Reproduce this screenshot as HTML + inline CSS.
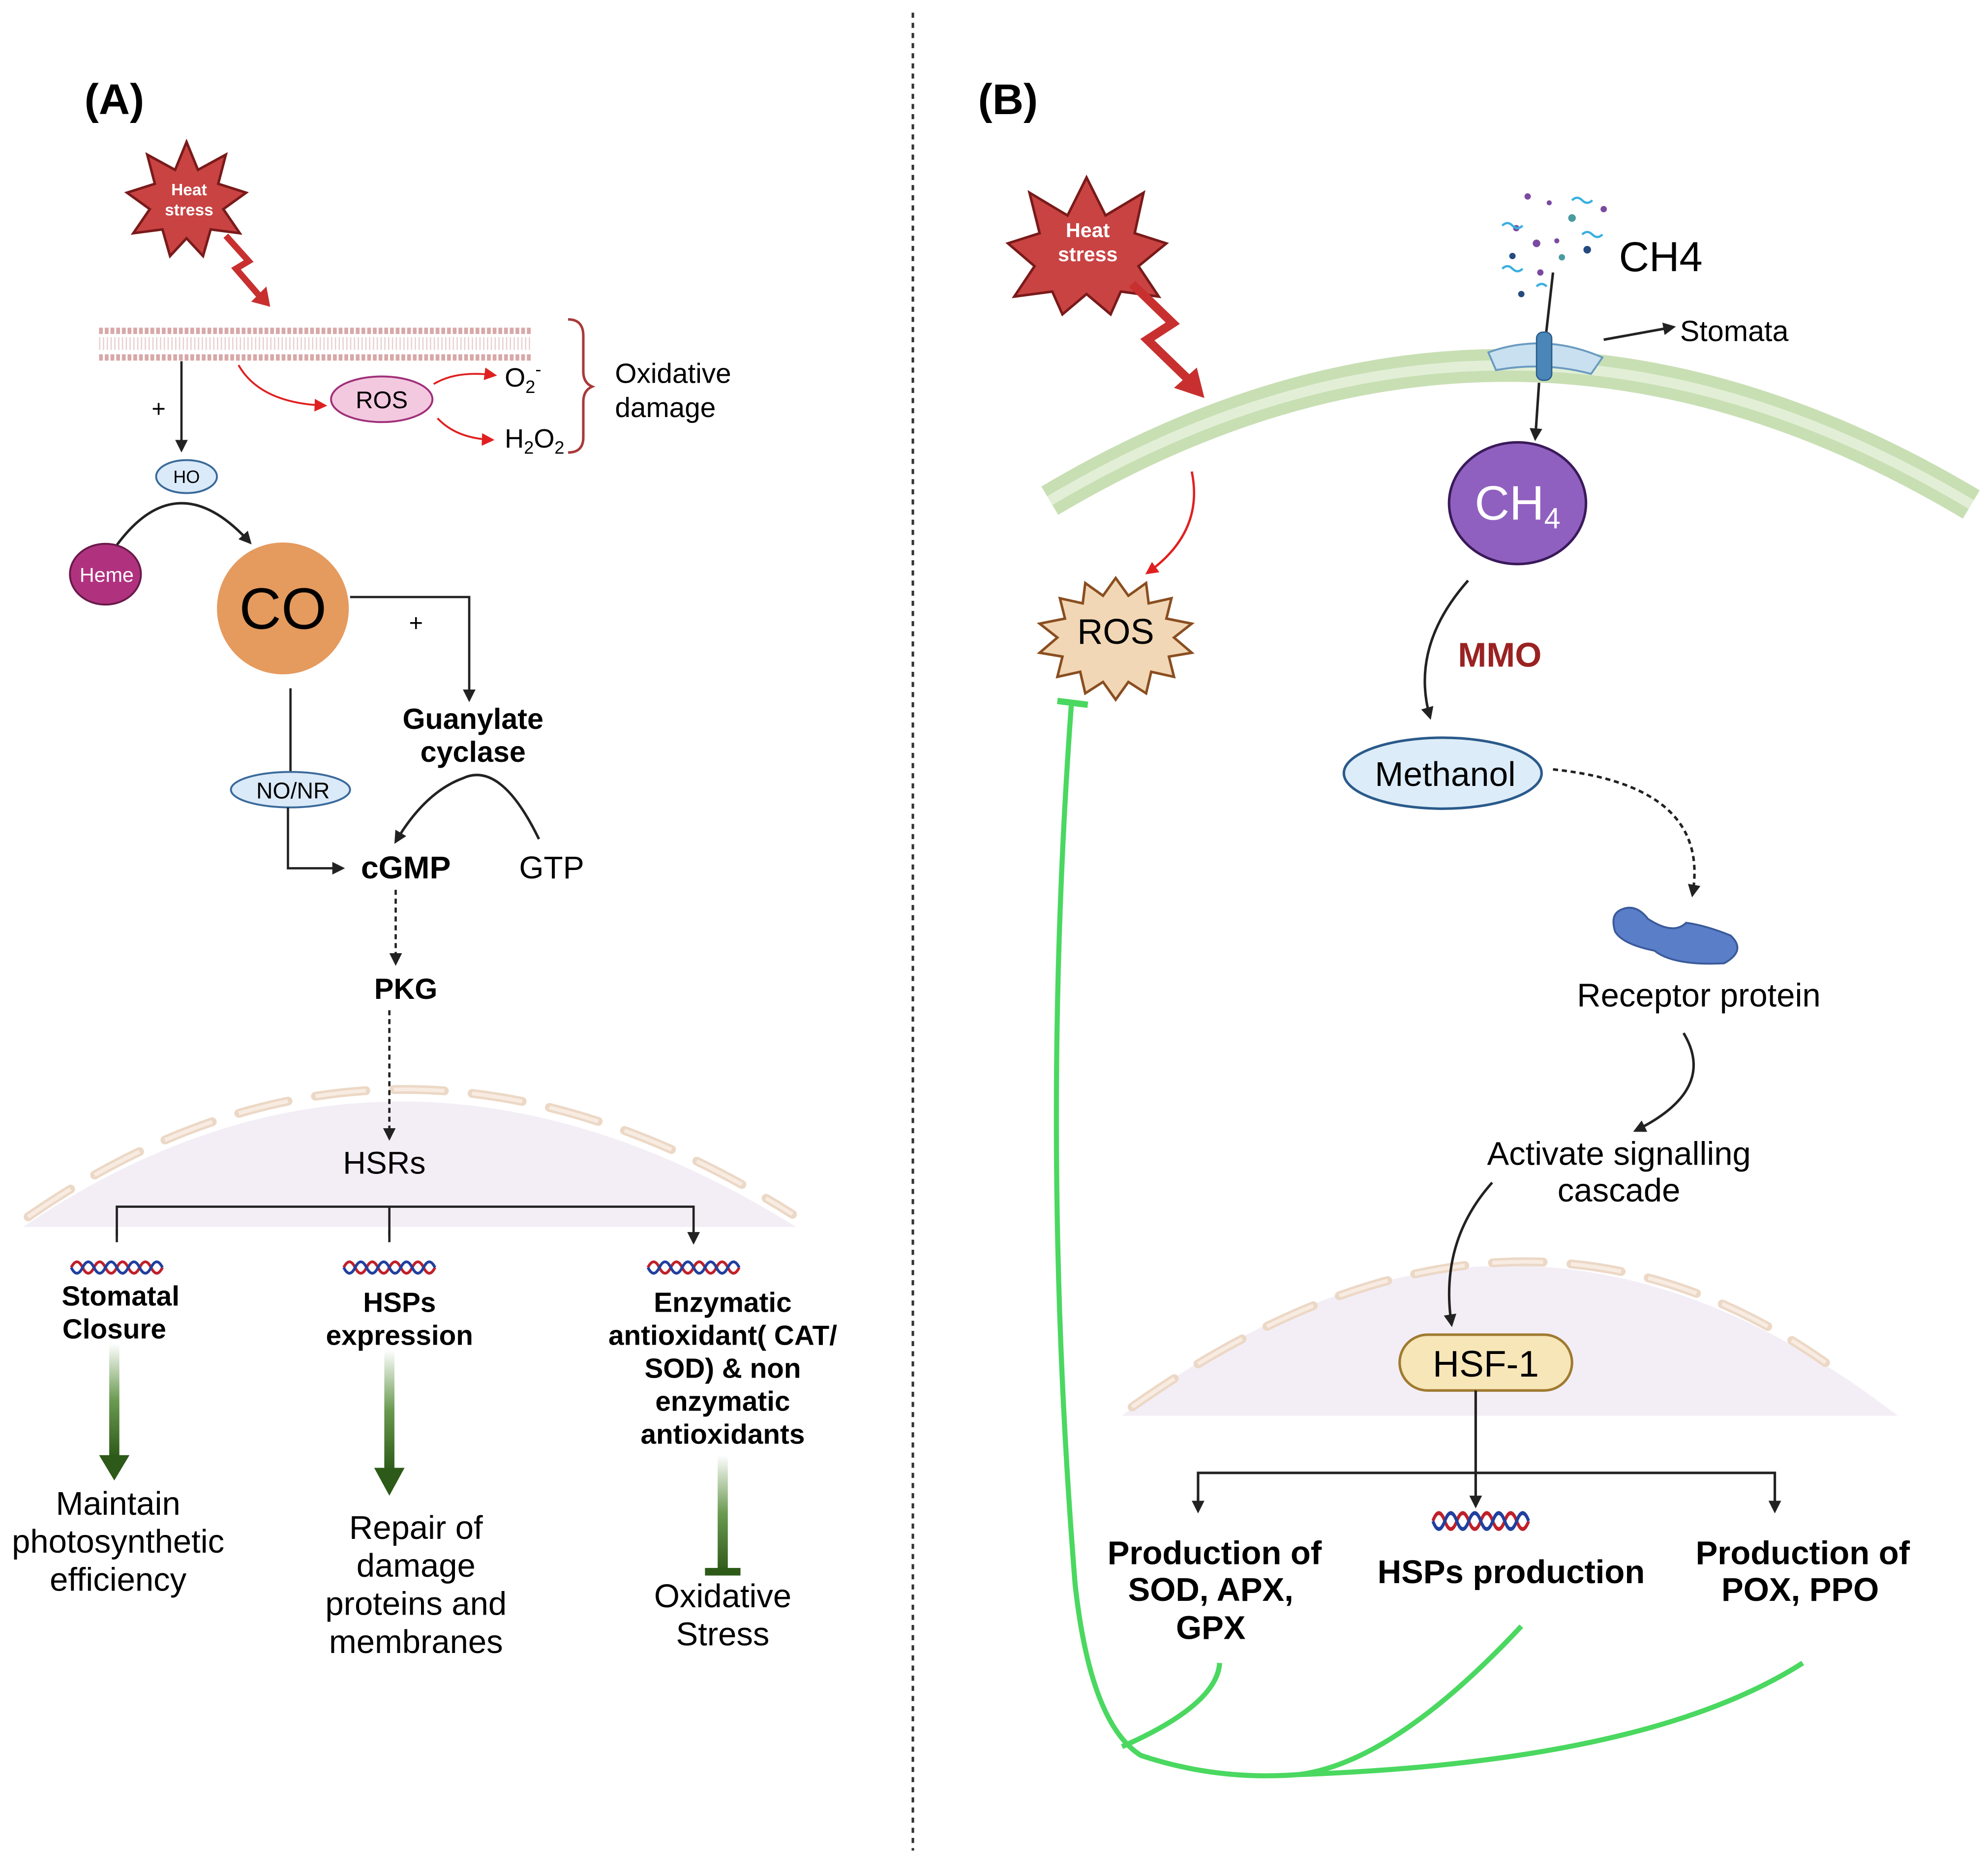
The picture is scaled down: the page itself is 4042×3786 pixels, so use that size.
<!DOCTYPE html>
<html><head><meta charset="utf-8"><style>html,body{margin:0;padding:0;background:#fff}svg{display:block}text{font-family:"Liberation Sans",Arial,sans-serif}</style></head>
<body>
<svg width="4042" height="3786" viewBox="0 0 1568 1469" xmlns="http://www.w3.org/2000/svg">
<defs>
<marker id="ak" markerWidth="10" markerHeight="10" refX="8" refY="5" orient="auto" markerUnits="userSpaceOnUse"><path d="M0,0 L10,5 L0,10 Z" fill="#222"/></marker>
<marker id="ar" markerWidth="10" markerHeight="10" refX="8" refY="5" orient="auto" markerUnits="userSpaceOnUse"><path d="M0,0 L10,5 L0,10 Z" fill="#e02020"/></marker>
<linearGradient id="gg" x1="0" y1="0" x2="0" y2="1"><stop offset="0" stop-color="#fff"/><stop offset="0.5" stop-color="#6a9a50"/><stop offset="1" stop-color="#2d5a18"/></linearGradient>
<g id="dna"><path d="M-36,0 q4.5,-9 9,0 t9,0 t9,0 t9,0 t9,0 t9,0 t9,0 t9,0" fill="none" stroke="#c0202a" stroke-width="2.2"/><path d="M-36,0 q4.5,9 9,0 t9,0 t9,0 t9,0 t9,0 t9,0 t9,0 t9,0" fill="none" stroke="#2040a0" stroke-width="2.2"/></g>
</defs>
<line x1="720" y1="10" x2="720" y2="1460" stroke="#333" stroke-width="2" stroke-dasharray="4,4"/>
<text x="90" y="90" font-size="34" font-weight="bold" text-anchor="middle">(A)</text>
<text x="795" y="90" font-size="34" font-weight="bold" text-anchor="middle">(B)</text>

<!-- A heat stress -->
<polygon points="147,112 156,134 178,122 172,145 194,152 176,165 189,184 166,181 160,202 147,188 134,202 128,181 105,184 118,165 100,152 122,145 116,122 138,134" fill="#c94343" stroke="#7a1a1a" stroke-width="2"/>
<text x="149" y="154" font-size="13" font-weight="bold" fill="#fff" text-anchor="middle">Heat</text>
<text x="149" y="170" font-size="13" font-weight="bold" fill="#fff" text-anchor="middle">stress</text>
<path d="M178,186 L196,206 L186,212 L205,234" fill="none" stroke="#c83030" stroke-width="5"/>
<path d="M198,238 L213,242 L210,226 Z" fill="#c83030"/>
<!-- membrane A -->
<line x1="78" y1="261" x2="420" y2="261" stroke="#d8a8a8" stroke-width="5" stroke-dasharray="3,1.5"/>
<line x1="78" y1="282" x2="420" y2="282" stroke="#d8a8a8" stroke-width="5" stroke-dasharray="3,1.5"/>
<line x1="78" y1="271" x2="420" y2="271" stroke="#e8d0d0" stroke-width="10" stroke-dasharray="1,2"/>
<line x1="143" y1="285" x2="143" y2="355" stroke="#222" stroke-width="1.8" marker-end="url(#ak)"/>
<text x="125" y="329" font-size="19" text-anchor="middle">+</text>
<ellipse cx="147" cy="376" rx="24" ry="13" fill="#dbeaf8" stroke="#3a6a9a" stroke-width="1.5"/>
<text x="147" y="381" font-size="14" text-anchor="middle">HO</text>
<path d="M92,430 Q140,365 197,428" fill="none" stroke="#222" stroke-width="2" marker-end="url(#ak)"/>
<ellipse cx="83" cy="453" rx="28" ry="24" fill="#b0327f" stroke="#6a1a4a" stroke-width="1.5"/>
<text x="84" y="459" font-size="16" fill="#fff" text-anchor="middle">Heme</text>
<circle cx="223" cy="480" r="52" fill="#e59a5e"/>
<text x="223" y="496" font-size="46" text-anchor="middle">CO</text>
<!-- ROS A -->
<path d="M188,288 Q205,318 256,320" fill="none" stroke="#e02020" stroke-width="1.5" marker-end="url(#ar)"/>
<ellipse cx="301" cy="315" rx="40" ry="18" fill="#f3c9e0" stroke="#a0307a" stroke-width="1.5"/>
<text x="301" y="322" font-size="19" text-anchor="middle">ROS</text>
<path d="M342,303 Q360,292 390,296" fill="none" stroke="#e02020" stroke-width="1.5" marker-end="url(#ar)"/>
<path d="M345,330 Q360,346 388,347" fill="none" stroke="#e02020" stroke-width="1.5" marker-end="url(#ar)"/>
<text x="398" y="305" font-size="21">O<tspan font-size="14" dy="5">2</tspan><tspan font-size="14" dy="-14">-</tspan></text>
<text x="398" y="353" font-size="21">H<tspan font-size="14" dy="5">2</tspan><tspan dy="-5">O</tspan><tspan font-size="14" dy="5">2</tspan></text>
<path d="M448,252 Q460,252 460,265 L460,293 Q460,302 467,305 Q460,308 460,317 L460,345 Q460,357 448,357" fill="none" stroke="#a83a3a" stroke-width="2"/>
<text x="485" y="302" font-size="22">Oxidative</text>
<text x="485" y="329" font-size="22">damage</text>
<!-- CO to guanylate -->
<path d="M276,471 L370,471 L370,552" fill="none" stroke="#222" stroke-width="1.8" marker-end="url(#ak)"/>
<text x="328" y="498" font-size="19" text-anchor="middle">+</text>
<text x="373" y="575" font-size="23" font-weight="bold" text-anchor="middle">Guanylate</text>
<text x="373" y="601" font-size="23" font-weight="bold" text-anchor="middle">cyclase</text>
<path d="M425,662 Q395,600 365,614 Q335,625 312,664" fill="none" stroke="#222" stroke-width="2" marker-end="url(#ak)"/>
<line x1="229" y1="543" x2="229" y2="609" stroke="#222" stroke-width="1.8"/>
<ellipse cx="229" cy="623" rx="47" ry="14" fill="#dbeaf8" stroke="#3a6a9a" stroke-width="1.5"/>
<text x="231" y="630" font-size="18" text-anchor="middle">NO/NR</text>
<path d="M227,637 L227,685 L270,685" fill="none" stroke="#222" stroke-width="1.8" marker-end="url(#ak)"/>
<text x="320" y="693" font-size="25" font-weight="bold" text-anchor="middle">cGMP</text>
<text x="435" y="693" font-size="25" text-anchor="middle">GTP</text>
<line x1="312" y1="702" x2="312" y2="760" stroke="#222" stroke-width="1.8" stroke-dasharray="4,3" marker-end="url(#ak)"/>
<text x="320" y="788" font-size="23" font-weight="bold" text-anchor="middle">PKG</text>
<!-- nucleus A -->
<path d="M18,968 Q310,770 628,968 Z" fill="#f3eef6"/>
<path d="M22,960 Q310,760 625,958" fill="none" stroke="#ecd8c6" stroke-width="7" stroke-dasharray="40,22" stroke-linecap="round"/>
<path d="M22,960 Q310,760 625,958" fill="none" stroke="#f8ece2" stroke-width="3" stroke-dasharray="40,22"/>
<line x1="307" y1="797" x2="307" y2="898" stroke="#222" stroke-width="1.8" stroke-dasharray="4,3" marker-end="url(#ak)"/>
<text x="303" y="926" font-size="25" text-anchor="middle">HSRs</text>
<path d="M92,975 L92,952 L547,952 L547,975 M307,952 L307,975" fill="none" stroke="#222" stroke-width="1.8"/>
<path d="M92,970 L92,980 M307,970 L307,980 M547,970 L547,980" stroke="#222" stroke-width="1.8" marker-end="url(#ak)"/>
<use href="#dna" x="92" y="1000"/><use href="#dna" x="307" y="1000"/><use href="#dna" x="547" y="1000"/>
<g font-size="22" font-weight="bold" text-anchor="middle">
<text x="95" y="1030">Stomatal</text><text x="90" y="1056">Closure</text>
<text x="315" y="1035">HSPs</text><text x="315" y="1061">expression</text>
<text x="570" y="1035">Enzymatic</text><text x="570" y="1061">antioxidant( CAT/</text><text x="570" y="1087">SOD) &amp; non</text><text x="570" y="1113">enzymatic</text><text x="570" y="1139">antioxidants</text>
</g>
<rect x="86" y="1060" width="8" height="90" fill="url(#gg)"/><path d="M78,1148 L102,1148 L90,1168 Z" fill="#2d5a18"/>
<rect x="303" y="1065" width="8" height="95" fill="url(#gg)"/><path d="M295,1158 L319,1158 L307,1180 Z" fill="#2d5a18"/>
<rect x="566" y="1148" width="8" height="92" fill="url(#gg)"/><rect x="556" y="1237" width="28" height="6" fill="#2d5a18"/>
<g font-size="26" text-anchor="middle">
<text x="93" y="1195">Maintain</text><text x="93" y="1225">photosynthetic</text><text x="93" y="1255">efficiency</text>
<text x="328" y="1214">Repair of</text><text x="328" y="1244">damage</text><text x="328" y="1274">proteins and</text><text x="328" y="1304">membranes</text>
<text x="570" y="1268">Oxidative</text><text x="570" y="1298">Stress</text>
</g>

<!-- B -->
<polygon points="857,140 872,170 902,152 895,184 920,192 898,210 914,234 884,230 876,248 857,232 838,248 830,230 800,234 816,210 795,192 820,184 812,152 842,170" fill="#c94343" stroke="#7a1a1a" stroke-width="2"/>
<text x="858" y="187" font-size="16" font-weight="bold" fill="#fff" text-anchor="middle">Heat</text>
<text x="858" y="206" font-size="16" font-weight="bold" fill="#fff" text-anchor="middle">stress</text>
<path d="M893,224 L925,255 L905,268 L938,300" fill="none" stroke="#c83030" stroke-width="7"/>
<path d="M926,306 L950,314 L944,290 Z" fill="#c83030"/>
<!-- membrane B -->
<path d="M828,395 Q1190,180 1555,398" fill="none" stroke="#c8dfb4" stroke-width="26"/>
<path d="M828,395 Q1190,180 1555,398" fill="none" stroke="#e2efd6" stroke-width="8"/>
<!-- CH4 particles -->
<g fill="#7a4aa0"><circle cx="1205" cy="155" r="2.5"/><circle cx="1222" cy="160" r="2"/><circle cx="1196" cy="180" r="2.5"/><circle cx="1212" cy="192" r="3"/><circle cx="1240" cy="172" r="3" fill="#4a9aa0"/><circle cx="1265" cy="165" r="2.5"/><circle cx="1228" cy="190" r="2"/><circle cx="1252" cy="197" r="3" fill="#244a80"/><circle cx="1200" cy="232" r="2.5" fill="#244a80"/><circle cx="1215" cy="215" r="2.5"/><circle cx="1232" cy="203" r="2.5" fill="#4a9aa0"/><circle cx="1193" cy="202" r="2.5" fill="#244a80"/></g>
<g fill="none" stroke="#3ab0e0" stroke-width="1.8"><path d="M1185,178 q4,-4 8,0 t8,0"/><path d="M1240,158 q4,-4 8,0 t8,0"/><path d="M1185,212 q4,-4 8,0 t8,0"/><path d="M1248,185 q4,-4 8,0 t8,0"/><path d="M1212,226 q4,-4 8,0"/></g>
<text x="1310" y="214" font-size="33" text-anchor="middle">CH4</text>
<line x1="1225" y1="215" x2="1219" y2="268" stroke="#222" stroke-width="2"/>
<path d="M1174,278 Q1218,262 1264,282 L1255,295 Q1218,285 1180,292 Z" fill="#c8e0f0" stroke="#6a9ac0" stroke-width="1.5"/>
<rect x="1212" y="262" width="12" height="38" rx="5" fill="#4a86b8" stroke="#2a5a8a"/>
<line x1="1265" y1="268" x2="1320" y2="258" stroke="#222" stroke-width="2" marker-end="url(#ak)"/>
<text x="1368" y="269" font-size="23" text-anchor="middle">Stomata</text>
<line x1="1214" y1="302" x2="1211" y2="346" stroke="#222" stroke-width="2" marker-end="url(#ak)"/>
<ellipse cx="1197" cy="397" rx="54" ry="48" fill="#9060c0" stroke="#3a1a5a" stroke-width="2"/>
<text x="1197" y="410" font-size="38" fill="#fff" text-anchor="middle">CH<tspan font-size="23" dy="7">4</tspan></text>
<path d="M1158,458 Q1112,510 1128,566" fill="none" stroke="#222" stroke-width="2" marker-end="url(#ak)"/>
<text x="1183" y="526" font-size="27" font-weight="bold" fill="#9a2222" text-anchor="middle">MMO</text>
<ellipse cx="1138" cy="610" rx="78" ry="28" fill="#dcecf8" stroke="#2a5a8a" stroke-width="2"/>
<text x="1140" y="620" font-size="27" text-anchor="middle">Methanol</text>
<path d="M1225,607 Q1350,620 1335,706" fill="none" stroke="#222" stroke-width="2" stroke-dasharray="4,3" marker-end="url(#ak)"/>
<path d="M1278,718 Q1290,712 1300,725 Q1320,738 1330,728 Q1345,730 1365,738 Q1378,750 1360,760 Q1320,762 1305,750 Q1280,745 1274,735 Q1270,722 1278,718 Z" fill="#5a7ec8" stroke="#3a5a9a" stroke-width="1.5"/>
<text x="1340" y="794" font-size="26" text-anchor="middle">Receptor protein</text>
<path d="M1328,815 Q1355,860 1290,892" fill="none" stroke="#222" stroke-width="2" marker-end="url(#ak)"/>
<text x="1277" y="919" font-size="26" text-anchor="middle">Activate signalling</text>
<text x="1277" y="948" font-size="26" text-anchor="middle">cascade</text>
<!-- nucleus B -->
<path d="M885,1117 Q1190,880 1497,1117 Z" fill="#f3eef6"/>
<path d="M893,1110 Q1190,900 1440,1075" fill="none" stroke="#ecd8c6" stroke-width="7" stroke-dasharray="40,22" stroke-linecap="round"/>
<path d="M893,1110 Q1190,900 1440,1075" fill="none" stroke="#f8ece2" stroke-width="3" stroke-dasharray="40,22"/>
<path d="M1177,933 Q1135,980 1145,1045" fill="none" stroke="#222" stroke-width="2" marker-end="url(#ak)"/>
<rect x="1104" y="1053" width="136" height="44" rx="22" fill="#f6e6b8" stroke="#a07a30" stroke-width="2"/>
<text x="1172" y="1086" font-size="29" text-anchor="middle">HSF-1</text>
<line x1="1164" y1="1097" x2="1164" y2="1188" stroke="#222" stroke-width="2" marker-end="url(#ak)"/>
<path d="M945,1192 L945,1162 L1400,1162 L1400,1192" fill="none" stroke="#222" stroke-width="2" marker-end="url(#ak)"/>
<path d="M945,1180 L945,1192" stroke="#222" stroke-width="2" marker-end="url(#ak)"/>
<g transform="translate(1168,1200) scale(1.05,1.4)"><use href="#dna"/></g>
<g font-size="26" font-weight="bold" text-anchor="middle">
<text x="958" y="1234">Production of</text><text x="955" y="1263">SOD, APX,</text><text x="955" y="1293">GPX</text>
<text x="1192" y="1249">HSPs production</text>
<text x="1422" y="1234">Production of</text><text x="1420" y="1263">POX, PPO</text>
</g>
<!-- ROS B -->
<path d="M940,372 Q950,420 905,452" fill="none" stroke="#e02020" stroke-width="1.8" marker-end="url(#ar)"/>
<polygon points="880,456 890,470 904,460 906,476 924,472 920,488 940,492 926,503 940,515 922,518 926,534 908,530 904,547 890,538 880,552 870,538 856,547 852,530 834,534 838,518 820,515 834,503 820,492 840,488 836,472 854,476 856,460 870,470" fill="#f1d7b5" stroke="#8a4e20" stroke-width="2"/>
<text x="880" y="508" font-size="28" text-anchor="middle">ROS</text>
<!-- green -->
<path d="M845,556 Q820,900 848,1250 Q860,1360 900,1385 Q960,1405 1025,1400 Q1300,1390 1422,1312" fill="none" stroke="#4ad860" stroke-width="4"/>
<path d="M962,1312 Q960,1345 885,1378" fill="none" stroke="#4ad860" stroke-width="4"/>
<path d="M1200,1283 Q1100,1390 1025,1400" fill="none" stroke="#4ad860" stroke-width="4"/>
<line x1="834" y1="553" x2="858" y2="556" stroke="#4ad860" stroke-width="5"/>
</svg>
</body></html>
